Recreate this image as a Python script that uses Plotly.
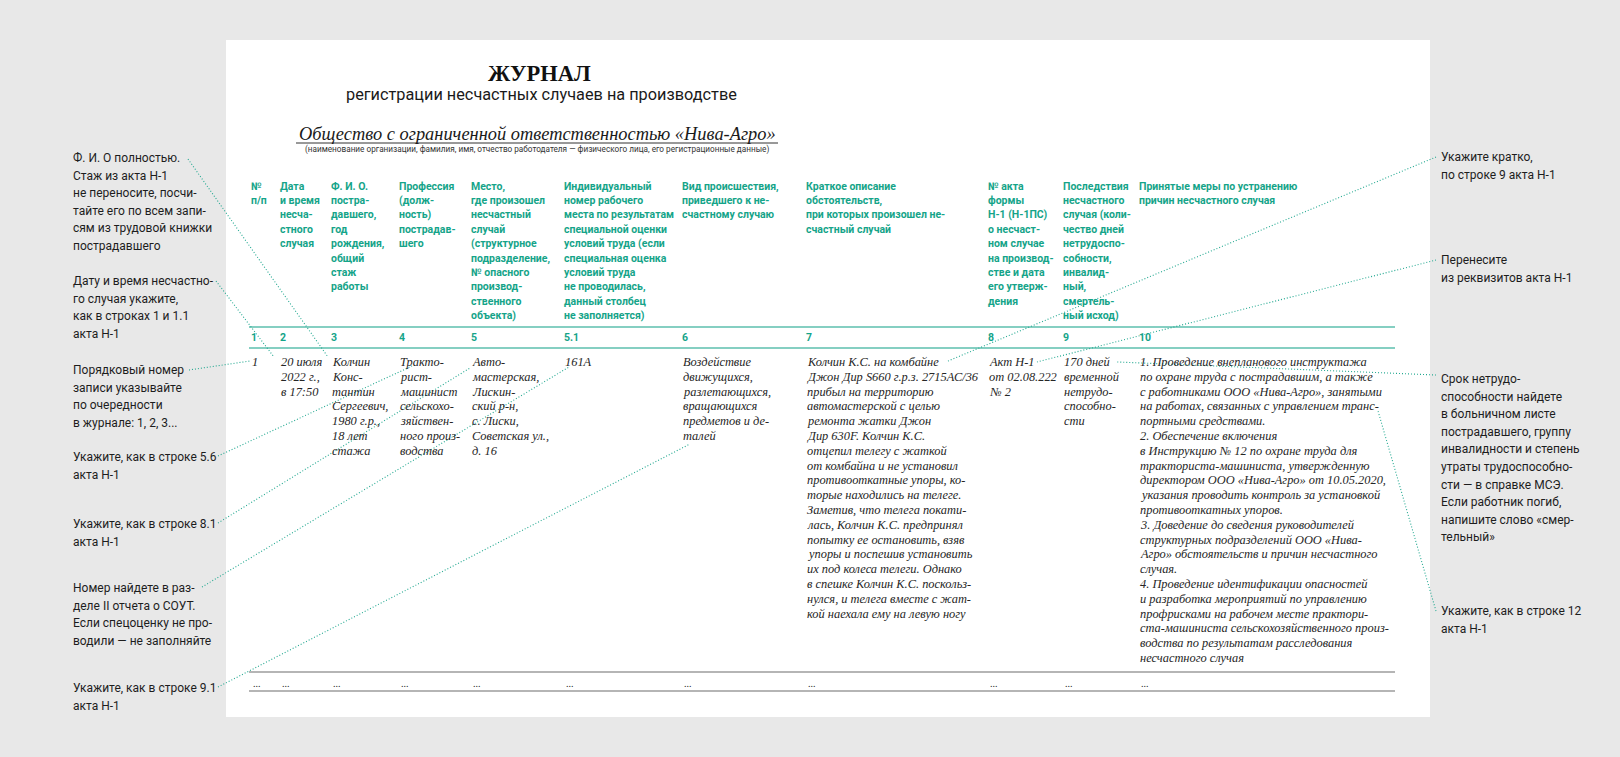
import plotly.graph_objects as go

W, H = 1620, 757

# ---------------- text content ----------------
title = "ЖУРНАЛ"
subtitle = "регистрации несчастных случаев на производстве"
org_name = "Общество с ограниченной ответственностью «Нива-Агро»"
org_caption = ("(наименование организации, фамилия, имя, отчество работодателя — "
               "физического лица, его регистрационные данные)")

col_numbers = ["1", "2", "3", "4", "5", "5.1", "6", "7", "8", "9", "10"]

header_lines = [
    ["№", "п/п"],
    ["Дата", "и время", "несча-", "стного", "случая"],
    ["Ф. И. О.", "постра-", "давшего,", "год", "рождения,", "общий", "стаж", "работы"],
    ["Профессия", "(долж-", "ность)", "пострадав-", "шего"],
    ["Место,", "где произошел", "несчастный", "случай", "(структурное", "подразделение,",
     "№ опасного", "производ-", "ственного", "объекта)"],
    ["Индивидуальный", "номер рабочего", "места по результатам", "специальной оценки",
     "условий труда (если", "специальная оценка", "условий труда", "не проводилась,",
     "данный столбец", "не заполняется)"],
    ["Вид происшествия,", "приведшего к не-", "счастному случаю"],
    ["Краткое описание", "обстоятельств,", "при которых произошел не-", "счастный случай"],
    ["№ акта", "формы", "Н-1 (Н-1ПС)", "о несчаст-", "ном случае", "на производ-",
     "стве и дата", "его утверж-", "дения"],
    ["Последствия", "несчастного", "случая (коли-", "чество дней", "нетрудоспо-",
     "собности,", "инвалид-", "ный,", "смертель-", "ный исход)"],
    ["Принятые меры по устранению", "причин несчастного случая"],
]

row_lines = [
    ["1"],
    ["20 июля", "2022 г.,", "в 17:50"],
    ["Колчин", "Конс-", "тантин", "Сергеевич,", "1980 г.р.,", "18 лет", "стажа"],
    ["Тракто-", "рист-", "машинист", "сельскохо-", "зяйствен-", "ного произ-", "водства"],
    ["Авто-", "мастерская,", "Лискин-", "ский р-н,", "с. Лиски,", "Советская ул.,", "д. 16"],
    ["161А"],
    ["Воздействие", "движущихся,", "разлетающихся,", "вращающихся", "предметов и де-", "талей"],
    ["Колчин К.С. на комбайне", "Джон Дир S660 г.р.з. 2715АС/36", "прибыл на территорию",
     "автомастерской с целью", "ремонта жатки Джон", "Дир 630F. Колчин К.С.",
     "отцепил телегу с жаткой", "от комбайна и не установил", "противооткатные упоры, ко-",
     "торые находились на телеге.", "Заметив, что телега покати-",
     "лась, Колчин К.С. предпринял", "попытку ее остановить, взяв",
     "упоры и поспешив установить", "их под колеса телеги. Однако",
     "в спешке Колчин К.С. поскольз-", "нулся, и телега вместе с жат-",
     "кой наехала ему на левую ногу"],
    ["Акт Н-1", "от 02.08.222", "№ 2"],
    ["170 дней", "временной", "нетрудо-", "способно-", "сти"],
    ["1. Проведение внепланового инструктажа", "по охране труда с пострадавшим, а также",
     "с работниками ООО «Нива-Агро», занятыми", "на работах, связанных с управлением транс-",
     "портными средствами.", "2. Обеспечение включения",
     "в Инструкцию № 12 по охране труда для", "тракториста-машиниста, утвержденную",
     "директором ООО «Нива-Агро» от 10.05.2020,", "указания проводить контроль за установкой",
     "противооткатных упоров.", "3. Доведение до сведения руководителей",
     "структурных подразделений ООО «Нива-", "Агро» обстоятельств и причин несчастного",
     "случая.", "4. Проведение идентификации опасностей",
     "и разработка мероприятий по управлению", "профрисками на рабочем месте практори-",
     "ста-машиниста сельскохозяйственного произ-", "водства по результатам расследования",
     "несчастного случая"],
]

continuation_mark = "..."

left_notes = [
    ["Ф. И. О полностью.", "Стаж из акта Н-1", "не переносите, посчи-",
     "тайте его по всем запи-", "сям из трудовой книжки", "пострадавшего"],
    ["Дату и время несчастно-", "го случая укажите,", "как в строках 1 и 1.1", "акта Н-1"],
    ["Порядковый номер", "записи указывайте", "по очередности", "в журнале: 1, 2, 3..."],
    ["Укажите, как в строке 5.6", "акта Н-1"],
    ["Укажите, как в строке 8.1", "акта Н-1"],
    ["Номер найдете в раз-", "деле II отчета о СОУТ.", "Если спецоценку не про-",
     "водили — не заполняйте"],
    ["Укажите, как в строке 9.1", "акта Н-1"],
]

right_notes = [
    ["Укажите кратко,", "по строке 9 акта Н-1"],
    ["Перенесите", "из реквизитов акта Н-1"],
    ["Срок нетрудо-", "способности найдете", "в больничном листе", "пострадавшего, группу",
     "инвалидности и степень", "утраты трудоспособно-", "сти — в справке МСЭ.",
     "Если работник погиб,", "напишите слово «смер-", "тельный»"],
    ["Укажите, как в строке 12", "акта Н-1"],
]

# ---------------- layout / style constants ----------------
BG = "#e8e8e8"
PAPER = "#ffffff"
TEAL = "#15a489"
TEAL_LINE = "#5cbfae"
DOT = "#22a890"
DARK = "#1d1d1d"
INK = "#262626"
GRAY_LINE = "#9c9c9c"

SANS = "Roboto"
SERIF = "Liberation Serif"

col_x = [250, 279, 330, 398, 470, 563, 681, 805, 987, 1062, 1138]
row_font = 12.4
table_x0, table_x1 = 249, 1395

header_y0, header_dy = 186, 14.4
rule1_y, numbers_y, rule2_y = 327, 337.5, 348
row_y0, row_dy = 362, 14.8
gray1_y, dots_y, gray2_y = 672, 683, 691

left_x = 72
left_y0 = [158, 281, 370, 457, 524, 588, 688]
note_dy = 17.6
note_font = 12
right_x = 1440
right_y0 = [157, 260, 379, 611]

left_links = [((188, 159), (328, 357)), ((216, 281), (274, 357)), ((189, 370), (250, 361)),
              ((218, 456), (412, 366)), ((218, 523), (470, 368)), ((202, 587), (569, 367)),
              ((218, 687), (690, 444))]
right_links = [((1436, 157), (948, 361)), ((1436, 260), (1037, 362)),
               ((1436, 375), (1117, 362)), ((1436, 611), (1378, 411))]

fig = go.Figure()


def text_at(x, y, txt, family, size, color, xanchor="left"):
    fig.add_annotation(x=x, y=y, text=txt, xref="x", yref="y", showarrow=False,
                       xanchor=xanchor, yanchor="middle", borderpad=0,
                       font=dict(family=family, size=size, color=color))


def block(lines, x, y0, dy, family, size, color, wrap=("", "")):
    for i, t in enumerate(lines):
        text_at(x, y0 + i * dy, wrap[0] + t + wrap[1], family, size, color)


def hline(x0, x1, y, color, width, dash="solid"):
    fig.add_shape(type="line", x0=x0, x1=x1, y0=y, y1=y, xref="x", yref="y",
                  line=dict(color=color, width=width, dash=dash))


# paper sheet
fig.add_shape(type="rect", x0=226, x1=1430, y0=40, y1=717, xref="x", yref="y",
              fillcolor=PAPER, line=dict(width=0), layer="below")

# titles
text_at(539, 73, "<b>" + title + "</b>", "Liberation Serif", 22.5, "#111111", "center")
text_at(541, 94, subtitle, SANS, 16.3, "#1a1a1a", "center")
text_at(537, 134, "<i>" + org_name + "</i>", "Liberation Serif", 18.4, "#1a1a1a", "center")
hline(296, 778, 143, "#333333", 1)
text_at(537, 149.5, org_caption, SANS, 8.2, "#333333", "center")

# header
for x, lines in zip(col_x, header_lines):
    block(lines, x, header_y0, header_dy, SANS, 10.5, TEAL, ("<b>", "</b>"))

hline(table_x0, table_x1, rule1_y, TEAL_LINE, 1.6)
for x, n in zip(col_x, col_numbers):
    text_at(x, numbers_y, "<b>" + n + "</b>", SANS, 10.5, TEAL)
hline(table_x0, table_x1, rule2_y, TEAL_LINE, 1.6)

# data row
for x, lines in zip(col_x, row_lines):
    block(lines, x + 1, row_y0, row_dy, SERIF, row_font, INK, ("<i>", "</i>"))

# continuation row
hline(table_x0, table_x1, gray1_y, GRAY_LINE, 1.3)
for x in col_x:
    text_at(x + 2, dots_y, continuation_mark, SERIF, 10, INK)
hline(table_x0, table_x1, gray2_y, "#b5b5b5", 2)

# notes
for y0, lines in zip(left_y0, left_notes):
    block(lines, left_x, y0, note_dy, SANS, note_font, DARK)
for y0, lines in zip(right_y0, right_notes):
    block(lines, right_x, y0, note_dy, SANS, note_font, DARK)

# dotted leader lines
for (a, b) in left_links + right_links:
    fig.add_shape(type="line", x0=a[0], y0=a[1], x1=b[0], y1=b[1], xref="x", yref="y",
                  line=dict(color=DOT, width=1.1, dash="1px,2px"))

fig.update_layout(
    width=W, height=H, margin=dict(l=0, r=0, t=0, b=0),
    paper_bgcolor=BG, plot_bgcolor=BG, showlegend=False,
    xaxis=dict(range=[0, W], visible=False, fixedrange=True),
    yaxis=dict(range=[H, 0], visible=False, fixedrange=True),
)

fig.write_html(
    "out.html",
    config={"displayModeBar": False},
    post_script="document.body.style.margin='0';document.body.style.background='#e8e8e8';"
                "document.body.style.overflow='hidden';",
)
